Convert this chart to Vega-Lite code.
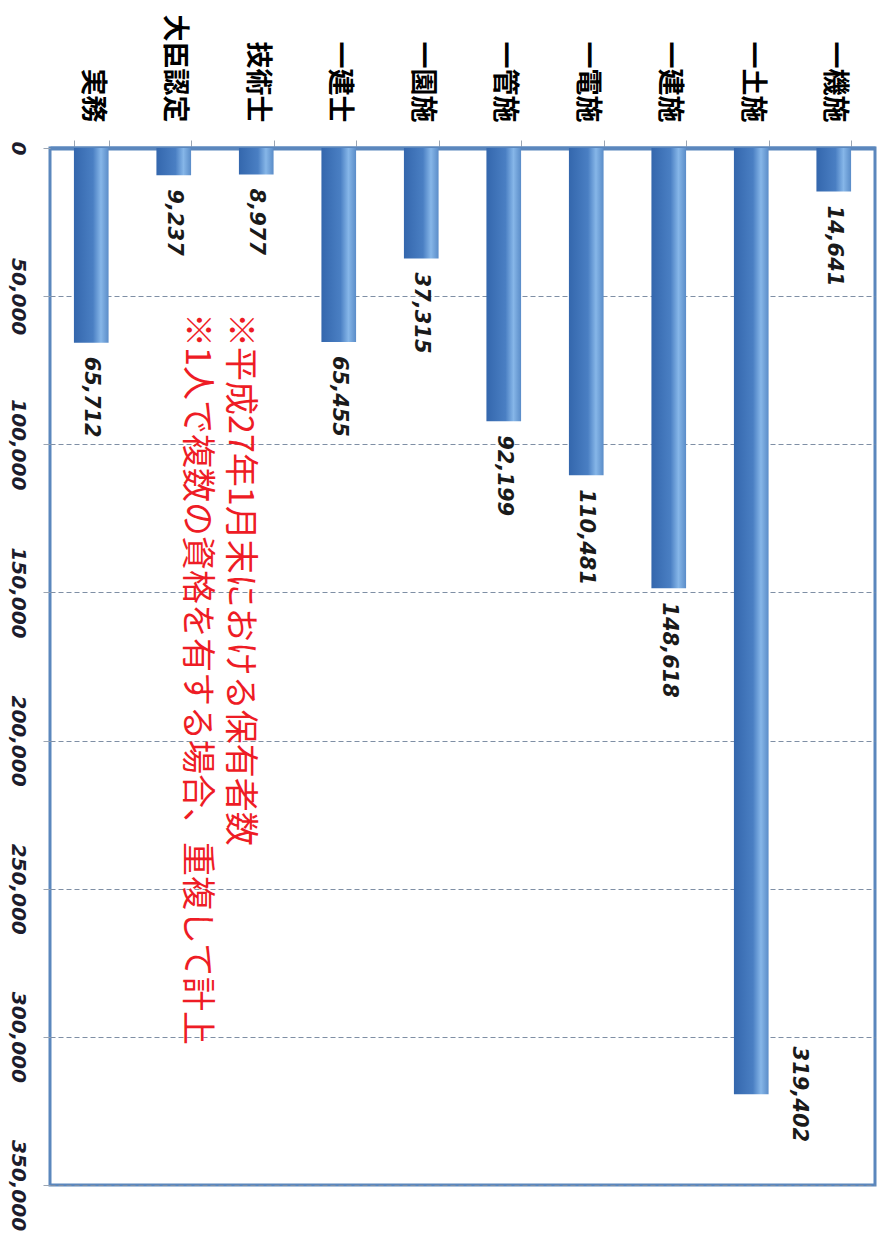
{
  "$schema": "https://vega.github.io/schema/vega-lite/v6.json",
  "width": 825,
  "height": 1037,
  "autosize": "none",
  "padding": {"left": 50, "top": 148, "right": 11, "bottom": 56},
  "background": "white",
  "config": {"view": {"stroke": "#5b87bd", "strokeWidth": 3}},
  "data": {
    "values": [
      {"cat": "一機施", "v": 14641},
      {"cat": "一土施", "v": 319402},
      {"cat": "一建施", "v": 148618},
      {"cat": "一電施", "v": 110481},
      {"cat": "一管施", "v": 92199},
      {"cat": "一園施", "v": 37315},
      {"cat": "一建士", "v": 65455},
      {"cat": "技術士", "v": 8977},
      {"cat": "大臣認定", "v": 9237},
      {"cat": "実務", "v": 65712}
    ]
  },
  "encoding": {
    "x": {
      "field": "cat",
      "type": "nominal",
      "sort": ["実務", "大臣認定", "技術士", "一建士", "一園施", "一管施", "一電施", "一建施", "一土施", "一機施"],
      "scale": {"paddingInner": 0.58, "paddingOuter": 0.29},
      "axis": {
        "orient": "top",
        "title": null,
        "labelAngle": 90,
        "labelAlign": "right",
        "labelBaseline": "middle",
        "labelFont": "Noto Sans CJK JP",
        "labelFontSize": 27,
        "labelFontWeight": "bold",
        "labelColor": "#000000",
        "labelPadding": 18,
        "tickBand": "extent",
        "tickSize": 8,
        "tickColor": "#9aa5b3",
        "domainColor": "#5b87bd",
        "domainWidth": 4,
        "grid": false
      }
    },
    "y": {
      "field": "v",
      "type": "quantitative",
      "scale": {"domain": [0, 350000], "reverse": true, "nice": false},
      "axis": {
        "title": null,
        "values": [0, 50000, 100000, 150000, 200000, 250000, 300000, 350000],
        "format": ",d",
        "labelAngle": 90,
        "labelAlign": "center",
        "labelBaseline": "top",
        "labelFont": "DejaVu Sans",
        "labelFontStyle": "italic",
        "labelFontWeight": "bold",
        "labelFontSize": 20,
        "labelColor": "#1c1c2c",
        "labelPadding": 16,
        "tickSize": 7,
        "tickColor": "#9aa5b3",
        "domain": false,
        "grid": true,
        "gridColor": "#7f8fa5",
        "gridDash": [5, 3],
        "gridWidth": 1.2
      }
    }
  },
  "layer": [
    {
      "mark": {
        "type": "bar",
        "color": {
          "gradient": "linear",
          "x1": 0, "y1": 0, "x2": 1, "y2": 0,
          "stops": [
            {"offset": 0, "color": "#3467ad"},
            {"offset": 0.55, "color": "#4a7fc3"},
            {"offset": 0.78, "color": "#86b6e8"},
            {"offset": 1, "color": "#5a8cc8"}
          ]
        }
      }
    },
    {
      "transform": [{"filter": "datum.v < 300000"}],
      "mark": {
        "type": "text",
        "angle": 90,
        "align": "left",
        "baseline": "middle",
        "dx": 14,
        "font": "DejaVu Sans",
        "fontStyle": "italic",
        "fontWeight": "bold",
        "fontSize": 21,
        "color": "#1a1a1a"
      },
      "encoding": {"text": {"field": "v", "type": "quantitative", "format": ",d"}}
    },
    {
      "transform": [{"filter": "datum.v >= 300000"}],
      "mark": {
        "type": "text",
        "angle": 90,
        "align": "center",
        "baseline": "middle",
        "dy": -48,
        "font": "DejaVu Sans",
        "fontStyle": "italic",
        "fontWeight": "bold",
        "fontSize": 21,
        "color": "#1a1a1a"
      },
      "encoding": {"text": {"field": "v", "type": "quantitative", "format": ",d"}}
    },
    {
      "data": {
        "values": [
          {"cat": "技術士", "v": 55700, "note": "※平成27年1月末における保有者数\n※1人で複数の資格を有する場合、重複して計上"}
        ]
      },
      "mark": {
        "type": "text",
        "angle": 90,
        "align": "left",
        "baseline": "top",
        "lineBreak": "\n",
        "lineHeight": 43,
        "font": "Noto Sans CJK JP",
        "fontSize": 34,
        "color": "#ee1c25"
      },
      "encoding": {"text": {"field": "note", "type": "nominal"}}
    }
  ]
}
